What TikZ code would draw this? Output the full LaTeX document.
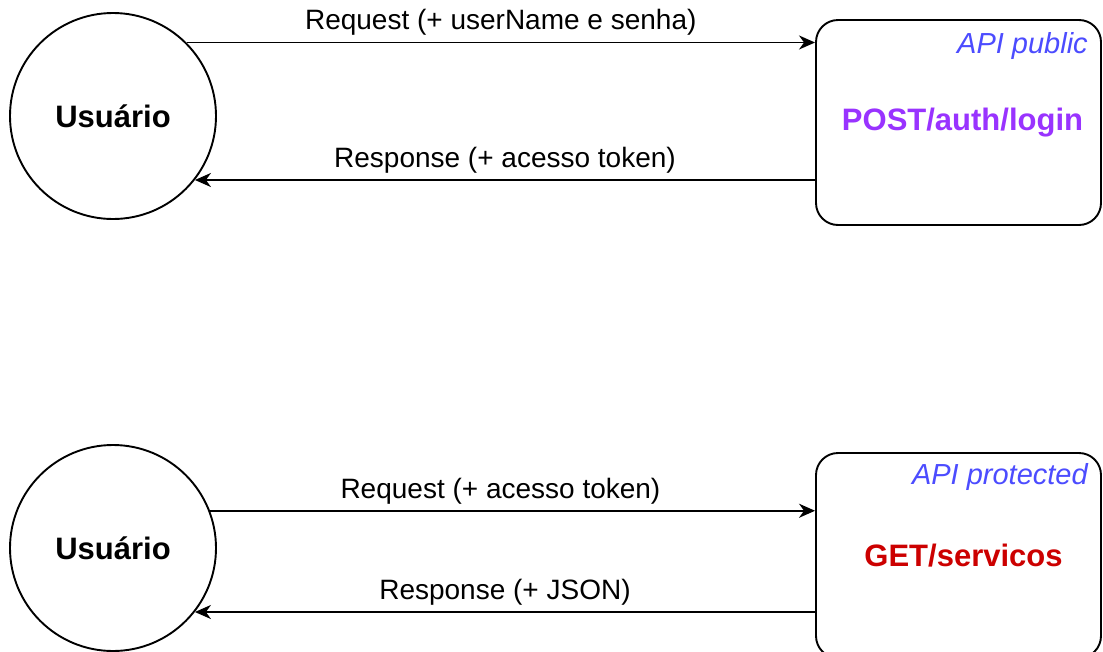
\documentclass[tikz,border=0pt]{standalone}
\usepackage{fontspec}
\setmainfont{Liberation Sans}
\usetikzlibrary{arrows.meta}
\definecolor{apiblue}{HTML}{4C4CFF}
\definecolor{postpurple}{HTML}{9933FF}
\definecolor{getred}{HTML}{CC0000}
\tikzset{
  actor/.style={circle, draw=black, line width=1.9pt, minimum size=206pt, inner sep=0pt,
    font=\fontsize{31}{36}\selectfont\bfseries},
  apibox/.style={draw=black, line width=1.9pt, rounded corners=22pt, minimum width=285pt,
    minimum height=205pt, inner sep=0pt},
  flow/.style={line width=1.9pt, -{Stealth[length=16pt, width=14pt, inset=5pt]}},
  flowlabel/.style={above=6pt, inner sep=0pt, font=\fontsize{28}{32}\selectfont},
  apitag/.style={anchor=east, inner sep=0pt, text=apiblue, font=\fontsize{29}{34}\selectfont\itshape},
  endpoint/.style={inner sep=0pt, font=\fontsize{31}{36}\selectfont\bfseries}
}
\begin{document}
\begin{tikzpicture}[x=1pt, y=-1pt]
\useasboundingbox (0,0) rectangle (1103,651);
\clip (0,0) rectangle (1103,651);
\fill[white] (0,0) rectangle (1103,651);

% top section
\node[actor] (u1) at (113,116) {Usuário};
\node[apibox] (b1) at (958.5,122.5) {};
\node[apitag] (t1) at ([xshift=-14pt, yshift=-27pt]b1.north east) {API public};
\node[endpoint, text=postpurple] (e1) at ([xshift=4pt]b1.center) {POST/auth/login};
\draw[flow] (u1.45) -- (u1.45 -| b1.west)
  node[flowlabel, pos=0.5] {Request (+ userName e senha)};
\coordinate (r1) at (u1.-38.4 -| b1.west);
\draw[flow] (r1) -- (u1.-38.4)
  node[flowlabel, pos=0.5] {Response (+ acesso token)};

% bottom section
\node[actor] (u2) at (113,548) {Usuário};
\node[apibox] (b2) at (958.5,555.5) {};
\node[apitag] (t2) at ([xshift=-14pt, yshift=-25pt]b2.north east) {API protected};
\node[endpoint, text=getred] (e2) at ([xshift=5pt]b2.center) {GET/servicos};
\draw[flow] (u2.21) -- (u2.21 -| b2.west)
  node[flowlabel, pos=0.48] {Request (+ acesso token)};
\coordinate (r2) at (u2.-38.4 -| b2.west);
\draw[flow] (r2) -- (u2.-38.4)
  node[flowlabel, pos=0.5] {Response (+ JSON)};
\end{tikzpicture}
\end{document}
